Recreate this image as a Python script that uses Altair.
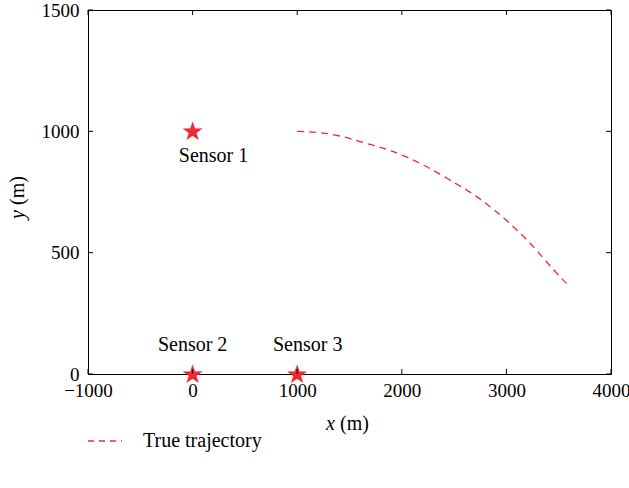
import altair as alt

# --- data ---
sensor_names = ["Sensor 1", "Sensor 2", "Sensor 3"]
sensor_x = [0, 0, 1000]
sensor_y = [1000, 0, 0]
label_x = [200, 0, 1100]
label_y = [900, 120, 120]

traj_x = [1000, 1313, 1664, 1919, 2238, 2461, 2716, 3066, 3257, 3417, 3602]
traj_y = [1000, 989, 950, 916, 854, 799, 731, 607, 525, 446, 360]

x_ticks = [-1000, 0, 1000, 2000, 3000, 4000]
y_ticks = [0, 500, 1000, 1500]

legend_label = "True trajectory"

FONT = "Liberation Serif"
RED = "#ee2a30"

sensors = alt.Data(values=[{"name": n, "x": a, "y": b, "lx": c, "ly": d}
                           for n, a, b, c, d in zip(sensor_names, sensor_x, sensor_y, label_x, label_y)])
traj = alt.Data(values=[{"x": a, "y": b} for a, b in zip(traj_x, traj_y)])
xt = alt.Data(values=[{"v": v} for v in x_ticks])
yt = alt.Data(values=[{"v": v} for v in y_ticks])
one = alt.Data(values=[{"t": legend_label}])

xs = alt.Scale(domain=[-1000, 4000], nice=False, zero=False)
ys = alt.Scale(domain=[0, 1500], nice=False, zero=False)

axis_common = dict(grid=False, domainColor="black",
                   labelFont=FONT, labelFontSize=19, labelColor="black",
                   ticks=False, title=None, format="d")

x_bottom = alt.Axis(orient="bottom", values=x_ticks, labelPadding=7, labelFlush=False, **axis_common)
y_left = alt.Axis(orient="left", values=y_ticks, labelPadding=9, **axis_common)

line = alt.Chart(traj).mark_line(strokeDash=[7, 5], strokeWidth=1.3, color=RED,
                                 interpolate="monotone").encode(
    x=alt.X("x:Q", scale=xs, axis=x_bottom),
    y=alt.Y("y:Q", scale=ys, axis=y_left),
)

labels = alt.Chart(sensors).mark_text(font=FONT, fontSize=20, color="black").encode(
    x=alt.X("lx:Q", scale=xs, title=None),
    y=alt.Y("ly:Q", scale=ys, title=None),
    text=alt.Text("name:N"),
)

# sensor markers: red stars
stars = alt.Chart(sensors).mark_text(text="\u2605", font="DejaVu Sans", fontSize=26, color=RED,
                                     baseline="middle", dy=1).encode(
    x=alt.X("x:Q", scale=xs, title=None),
    y=alt.Y("y:Q", scale=ys, title=None),
)

# inward ticks on all four sides
tb = alt.Chart(xt).mark_rule(color="black", strokeWidth=1).encode(
    x=alt.X("v:Q", scale=xs, title=None), y=alt.value(364), y2=alt.value(359))
tt = alt.Chart(xt).mark_rule(color="black", strokeWidth=1).encode(
    x=alt.X("v:Q", scale=xs, title=None), y=alt.value(0), y2=alt.value(5))
tl = alt.Chart(yt).mark_rule(color="black", strokeWidth=1).encode(
    y=alt.Y("v:Q", scale=ys, title=None), x=alt.value(0), x2=alt.value(5))
tr = alt.Chart(yt).mark_rule(color="black", strokeWidth=1).encode(
    y=alt.Y("v:Q", scale=ys, title=None), x=alt.value(523), x2=alt.value(518))

# axis titles (italic variable letters)
x_var = alt.Chart(one).mark_text(font=FONT, fontSize=20, fontStyle="italic", align="right",
                                 baseline="middle").encode(
    x=alt.value(247), y=alt.value(414), text=alt.value("x"))
x_unit = alt.Chart(one).mark_text(font=FONT, fontSize=20, align="left",
                                  baseline="middle").encode(
    x=alt.value(252), y=alt.value(414), text=alt.value("(m)"))
y_var = alt.Chart(one).mark_text(font=FONT, fontSize=20, fontStyle="italic", align="right",
                                 baseline="middle", angle=270).encode(
    x=alt.value(-70), y=alt.value(200), text=alt.value("y"))
y_unit = alt.Chart(one).mark_text(font=FONT, fontSize=20, align="left",
                                  baseline="middle", angle=270).encode(
    x=alt.value(-70), y=alt.value(195), text=alt.value("(m)"))

# legend drawn below the plot
leg_line = alt.Chart(one).mark_rule(color=RED, strokeWidth=1.3, strokeDash=[6, 5]).encode(
    x=alt.value(0), x2=alt.value(34), y=alt.value(431))
leg_text = alt.Chart(one).mark_text(font=FONT, fontSize=20, align="left", baseline="middle").encode(
    x=alt.value(55), y=alt.value(431), text=alt.Text("t:N"))

chart = alt.layer(line, labels, stars, tb, tt, tl, tr, x_var, x_unit, y_var, y_unit,
                  leg_line, leg_text).properties(
    width=523, height=364,
    autosize=alt.AutoSizeParams(type="none"),
    padding={"left": 88, "top": 10, "right": 18, "bottom": 114},
    background="white",
).configure_view(stroke="black", strokeWidth=1)

chart.save("out.html", embed_options={"renderer": "svg", "actions": False})
